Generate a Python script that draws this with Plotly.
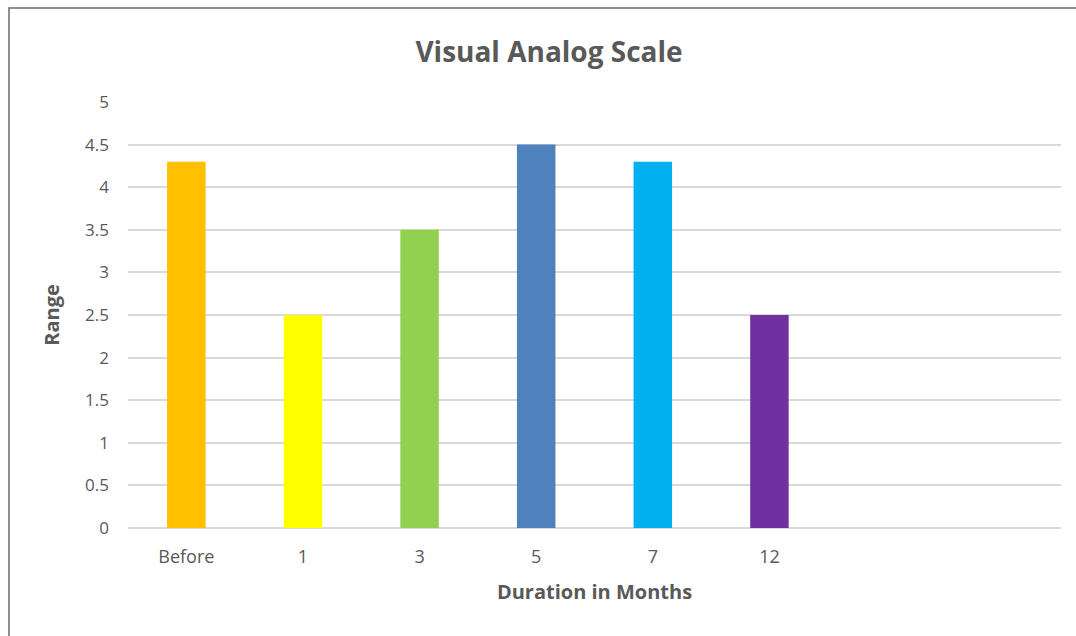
import plotly.graph_objects as go

# Visual Analog Scale scores over follow-up
categories = ["Before", "1", "3", "5", "7", "12"]
scores = [4.3, 2.5, 3.5, 4.5, 4.3, 2.5]
bar_colors = ["#FFC000", "#FFFF00", "#92D050", "#4F81BD", "#00B0F0", "#7030A0"]
y_ticks = [0, 0.5, 1, 1.5, 2, 2.5, 3, 3.5, 4, 4.5, 5]
y_tick_labels = ["0", "0.5", "1", "1.5", "2", "2.5", "3", "3.5", "4", "4.5", "5"]

text_color = "#595959"
font_family = "Open Sans"

fig = go.Figure(
    go.Bar(
        x=categories,
        y=scores,
        marker=dict(color=bar_colors, line=dict(width=0)),
        width=0.33,
        hoverinfo="x+y",
    )
)

fig.update_layout(
    width=1076,
    height=636,
    margin=dict(l=128, r=15, t=102, b=108),
    paper_bgcolor="white",
    plot_bgcolor="white",
    showlegend=False,
    font=dict(family=font_family, color=text_color, size=17),
    title=dict(
        text="<b>Visual Analog Scale</b>",
        x=549 / 1076,
        xanchor="center",
        xref="container",
        y=1 - 52 / 636,
        yanchor="middle",
        yref="container",
        font=dict(size=28, color=text_color, family=font_family),
    ),
    shapes=[
        dict(
            type="rect",
            xref="paper",
            yref="paper",
            x0=(9 - 128) / 933,
            x1=1.2,
            y0=-0.6,
            y1=1 + (102 - 8) / 426,
            line=dict(color="#6b6b6b", width=1.5),
            fillcolor="rgba(0,0,0,0)",
            layer="below",
        )
    ],
)

fig.update_xaxes(
    type="category",
    range=[-0.5, 7.5],
    showgrid=False,
    showline=False,
    zeroline=False,
    ticks="",
    ticklabelstandoff=16,
    tickfont=dict(size=18, color=text_color),
    title=dict(
        text="<b>Duration in Months</b>",
        font=dict(size=20, color=text_color),
        standoff=17,
    ),
)

fig.update_yaxes(
    range=[0, 5],
    tickvals=y_ticks,
    ticktext=y_tick_labels,
    showgrid=True,
    gridcolor="#d9d9d9",
    gridwidth=1.5,
    zeroline=True,
    zerolinecolor="#d9d9d9",
    zerolinewidth=1.5,
    showline=False,
    ticks="",
    ticklabelstandoff=18,
    tickfont=dict(size=17, color=text_color),
    title=dict(
        text="<b>Range</b>",
        font=dict(size=20, color=text_color),
        standoff=20,
    ),
)

fig.write_html("out.html")
